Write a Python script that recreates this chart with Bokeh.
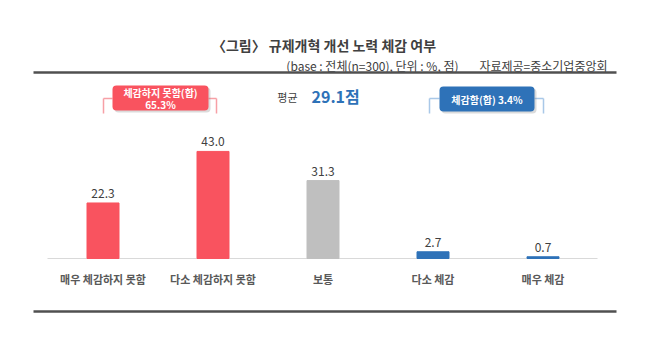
from bokeh.plotting import figure
from bokeh.models import Range1d, BoxAnnotation, ColumnDataSource, Label
from bokeh.core.properties import value
from bokeh.embed import file_html
from bokeh.resources import INLINE

# ---- data ----
categories = ["매우 체감하지 못함", "다소 체감하지 못함", "보통", "다소 체감", "매우 체감"]
values = [22.3, 43.0, 31.3, 2.7, 0.7]
groups = ["neg", "neg", "mid", "pos", "pos"]
value_labels = ["22.3", "43.0", "31.3", "2.7", "0.7"]
neg_sum_label = "체감하지 못함(합)"
neg_sum = "65.3%"
pos_sum_text = "체감함(합) 3.4%"
mean_label = "평균"
mean_value = "29.1점"
title_text = "〈그림〉 규제개혁 개선 노력 체감 여부"
sub_text1 = "(base : 전체(n=300), 단위 : %, 점)"
sub_text2 = "자료제공=중소기업중앙회"

# ---- styles ----
W, H = 648, 355
FONT = "Noto Sans CJK KR"
RED = "#F9535F"
GRAY = "#BFBFBF"
BLUE = "#2E72B8"
color_map = {"neg": RED, "mid": GRAY, "pos": BLUE}

X0, DX = 102.5, 110.0     # px centre of first category, px per category
BASE, K = 258.0, 2.49     # px of baseline, px per unit

def X(px):
    return (px - X0) / DX

def Y(py):
    return (BASE - py) / K

p = figure(width=W, height=H, output_backend="svg", toolbar_location=None,
           x_range=Range1d(X(0), X(W)), y_range=Range1d(Y(H), Y(0)),
           min_border=0, min_border_left=0, min_border_right=0,
           min_border_top=0, min_border_bottom=0)
p.axis.visible = False
p.grid.visible = False
p.outline_line_color = None
p.background_fill_color = "white"
p.border_fill_color = "white"

idx = list(range(len(categories)))
src = ColumnDataSource(dict(x=idx, top=values, color=[color_map[g] for g in groups],
                            lab=value_labels, cat=categories))

# baseline
p.segment(x0=[X(47)], y0=[0], x1=[X(597)], y1=[0], line_color="#D9D9D9", line_width=1)

# bars
p.vbar(x="x", top="top", bottom=0, width=32 / DX, color="color", source=src)

# value labels
p.text(x="x", y="top", text="lab", source=src, text_align="center", text_baseline="bottom",
       y_offset=-5, text_font=value(FONT), text_font_size="12px", text_color="#404040")

# category labels
p.text(x="x", y=Y(278), text="cat", source=src, text_align="center", text_baseline="middle",
       text_font=value(FONT), text_font_size="11px", text_font_style="bold",
       text_color="#595959")

# title and subtitle
p.text(x=[X(323.5)], y=[Y(44)], text=[title_text], text_align="center", text_baseline="middle",
       text_font=value(FONT), text_font_size="14px", text_font_style="bold", text_color="#404040")
p.text(x=[X(458)], y=[Y(65)], text=[sub_text1], text_align="right", text_baseline="middle",
       text_font=value(FONT), text_font_size="12px", text_color="#404040")
p.text(x=[X(607)], y=[Y(65)], text=[sub_text2], text_align="right", text_baseline="middle",
       text_font=value(FONT), text_font_size="12px", text_color="#404040")

# horizontal rules
p.segment(x0=[X(33), X(33)], y0=[Y(72), Y(311)], x1=[X(616), X(616)], y1=[Y(72), Y(311)],
          line_color="#505050", line_width=2.5)

# brackets
p.segment(x0=[X(103), X(208), X(103), X(216)], y0=[Y(98)] * 4,
          x1=[X(112), X(216), X(103), X(216)], y1=[Y(98), Y(98), Y(113), Y(113)],
          line_color="#F7A0A6", line_width=1.5)
p.segment(x0=[X(429), X(534), X(429), X(543)], y0=[Y(98)] * 4,
          x1=[X(439), X(543), X(429), X(543)], y1=[Y(98), Y(98), Y(113), Y(113)],
          line_color="#A9C8E8", line_width=1.5)

# shadows and boxes
p.add_layout(BoxAnnotation(left=X(114), right=X(210), top=Y(87), bottom=Y(112),
                           fill_color="#888888", fill_alpha=0.3, line_color=None, border_radius=4))
p.add_layout(BoxAnnotation(left=X(441), right=X(536), top=Y(88), bottom=Y(113),
                           fill_color="#888888", fill_alpha=0.3, line_color=None, border_radius=4))
p.add_layout(BoxAnnotation(left=X(112), right=X(208), top=Y(85), bottom=Y(110),
                           fill_color=RED, fill_alpha=1, line_color=None, border_radius=4))
p.add_layout(BoxAnnotation(left=X(439), right=X(534), top=Y(86), bottom=Y(111),
                           fill_color=BLUE, fill_alpha=1, line_color=None, border_radius=4))

def box_label(px, py, txt):
    p.add_layout(Label(x=X(px), y=Y(py), text=txt, text_align="center", text_baseline="middle",
                       text_font=FONT, text_font_size="10px", text_font_style="bold",
                       text_color="white"))

box_label(160, 92, neg_sum_label)
box_label(160, 104, neg_sum)
box_label(486.5, 98.5, pos_sum_text)

# mean
p.text(x=[X(297)], y=[Y(96)], text=[mean_label], text_align="right", text_baseline="middle",
       text_font=value(FONT), text_font_size="11px", text_color="#404040")
p.text(x=[X(311)], y=[Y(95)], text=[mean_value], text_align="left", text_baseline="middle",
       text_font=value(FONT), text_font_size="16px", text_font_style="bold", text_color=BLUE)

open("out.html", "w").write(file_html(p, INLINE))
